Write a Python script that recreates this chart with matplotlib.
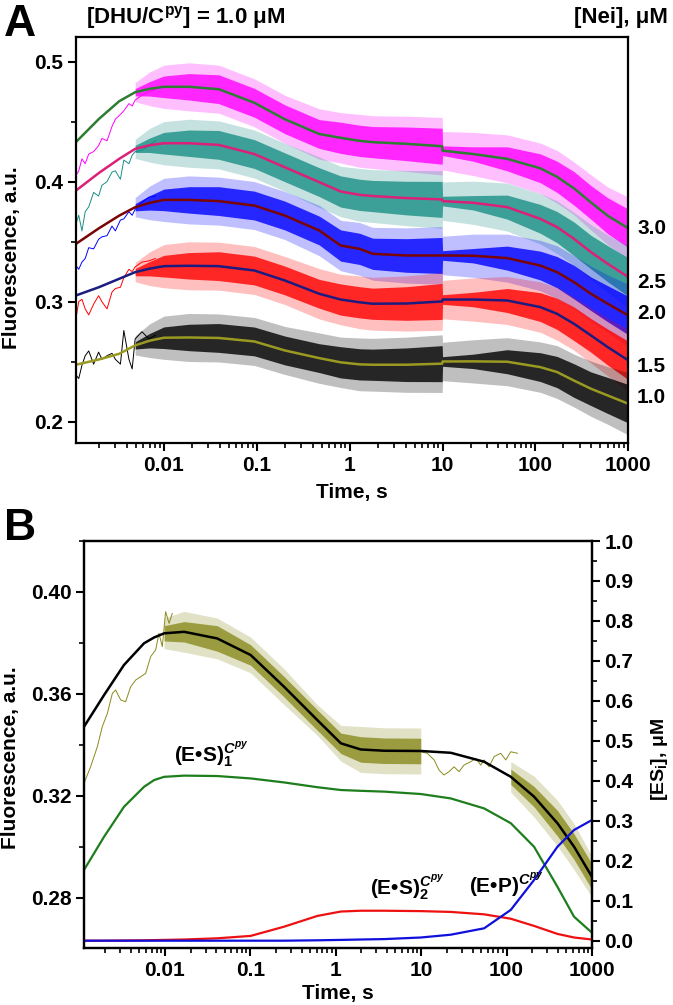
import numpy as np
import matplotlib
matplotlib.use("Agg")
import matplotlib.pyplot as plt
from matplotlib import ticker

plt.rcParams['font.family'] = ['Liberation Sans', 'DejaVu Sans']
plt.rcParams['font.weight'] = 'bold'
plt.rcParams['mathtext.fontset'] = 'custom'
plt.rcParams['mathtext.rm'] = 'Liberation Sans:bold'
plt.rcParams['mathtext.bf'] = 'Liberation Sans:bold'
plt.rcParams['mathtext.it'] = 'Liberation Sans:italic'
plt.rcParams['axes.linewidth'] = 1.6

# ---------------- panel A data ----------------
nei_labels = ['3.0', '2.5', '2.0', '1.5', '1.0']
nei_label_y = [229, 283, 313, 367, 397]  # pixel rows of the labels

fit_t = [0.00113, 0.002, 0.0033, 0.0049, 0.007, 0.01, 0.0186, 0.039, 0.094, 0.2, 0.47,
         0.8, 1.28, 1.77, 4.1, 9.9, 10.0, 21.4, 49.6, 113, 171, 260, 396, 600, 1000]
fit_30 = [0.433, 0.4523, 0.467, 0.4745, 0.4773, 0.479, 0.479, 0.477, 0.4657, 0.452, 0.4397,
          0.4365, 0.434, 0.4329, 0.4315, 0.4295, 0.4258, 0.423, 0.419, 0.4111, 0.404,
          0.3944, 0.3827, 0.3716, 0.3611]
fit_25 = [0.3926, 0.4073, 0.419, 0.4273, 0.4303, 0.432, 0.432, 0.4306, 0.423, 0.412, 0.3996,
          0.3918, 0.389, 0.388, 0.3863, 0.3852, 0.3838, 0.3824, 0.3788, 0.369, 0.3621,
          0.3524, 0.3413, 0.3316, 0.3205]
fit_20 = [0.3482, 0.3612, 0.3717, 0.3787, 0.3823, 0.3848, 0.3848, 0.3838, 0.3801, 0.3718,
          0.3593, 0.3468, 0.344, 0.3399, 0.3385, 0.3385, 0.3385, 0.3383, 0.3363, 0.3301,
          0.3246, 0.3163, 0.3066, 0.2983, 0.2885]
fit_15 = [0.3052, 0.3121, 0.3191, 0.3246, 0.3275, 0.3296, 0.3299, 0.3296, 0.326, 0.3177,
          0.3066, 0.3018, 0.2995, 0.2983, 0.2985, 0.3002, 0.3018, 0.3018, 0.301, 0.2955,
          0.2899, 0.2816, 0.2719, 0.2622, 0.2511]
fit_10 = [0.2475, 0.2519, 0.2566, 0.2636, 0.2675, 0.27, 0.2702, 0.2698, 0.2669, 0.2594,
          0.253, 0.2495, 0.2478, 0.2475, 0.2475, 0.2484, 0.2502, 0.2503, 0.25, 0.2455,
          0.2414, 0.2343, 0.2275, 0.2219, 0.215]
# dense-noise core and spike extent around each fit (from t = 0.0049 s on)
noise_core = [0.003, 0.006, 0.009, 0.011, 0.012, 0.012, 0.012, 0.012, 0.013, 0.013, 0.013,
              0.014, 0.015, 0.004, 0.006, 0.010, 0.012, 0.013, 0.014, 0.014, 0.015, 0.016]
noise_spike = [0.008, 0.014, 0.018, 0.020, 0.020, 0.020, 0.020, 0.021, 0.021, 0.022, 0.022,
               0.023, 0.024, 0.016, 0.018, 0.020, 0.021, 0.022, 0.022, 0.023, 0.024, 0.026]

# early (sparse) part of the raw traces
early_t = [0.00113, 0.00121, 0.00131, 0.00142, 0.00155, 0.00175, 0.00198, 0.00215,
           0.00244, 0.00276, 0.0030, 0.0034, 0.0037, 0.0042, 0.00455, 0.0049, 0.0058,
           0.0069, 0.0081]
raw_30 = [0.405, 0.409, 0.419, 0.415, 0.423, 0.425, 0.430, 0.436, 0.434, 0.446,
          0.452, 0.456, 0.459, 0.465, 0.463, 0.468, 0.472, 0.475, 0.477]
raw_25 = [0.365, 0.372, 0.359, 0.375, 0.379, 0.391, 0.388, 0.397, 0.400, 0.408,
          0.409, 0.402, 0.418, 0.415, 0.422, 0.425, 0.426, 0.430, 0.434]
raw_20 = [0.330, 0.327, 0.333, 0.336, 0.345, 0.344, 0.352, 0.354, 0.355, 0.363,
          0.359, 0.368, 0.369, 0.375, 0.372, 0.377, 0.383, 0.387, 0.388]
raw_15 = [0.286, 0.300, 0.302, 0.294, 0.289, 0.298, 0.305, 0.300, 0.294, 0.308,
          0.311, 0.312, 0.320, 0.327, 0.325, 0.329, 0.333, 0.334, 0.336]
raw_10 = [0.239, 0.236, 0.247, 0.255, 0.259, 0.248, 0.258, 0.252, 0.255, 0.257,
          0.252, 0.248, 0.276, 0.252, 0.244, 0.269, 0.275, 0.269, 0.272]

data_colors = ['#FF00FF', '#1A8F86', '#0000FF', '#FF0000', '#000000']
fit_colors = ['#2E7D32', '#DC1F78', '#7A0505', '#1C1C80', '#9A9A22']

# ---------------- panel B data ----------------
fitB_t = [0.00113, 0.00194, 0.00332, 0.0057, 0.0075, 0.0098, 0.0168, 0.041, 0.101, 0.248,
          0.61, 1.15, 1.96, 3.68, 9.9, 22.2, 54.6, 112, 210, 394, 617, 1000]
fitB = [0.3471, 0.3595, 0.3713, 0.3798, 0.3821, 0.3837, 0.3843, 0.3817, 0.3752, 0.3628,
        0.3497, 0.3406, 0.3382, 0.3377, 0.3376, 0.3369, 0.3334, 0.3275, 0.3197, 0.3093,
        0.3001, 0.2883]
es1 = [0.177, 0.260, 0.335, 0.385, 0.402, 0.410, 0.413, 0.412, 0.406, 0.396, 0.384,
       0.377, 0.375, 0.373, 0.367, 0.356, 0.331, 0.294, 0.235, 0.135, 0.060, 0.020]
es2 = [0.0, 0.0, 0.0005, 0.001, 0.0015, 0.002, 0.003, 0.006, 0.012, 0.035, 0.062,
       0.073, 0.075, 0.075, 0.074, 0.072, 0.066, 0.055, 0.037, 0.017, 0.008, 0.003]
ep = [0.0, 0.0, 0.0, 0.0, 0.0, 0.0, 0.0, 0.0, 0.0, 0.0, 0.001,
      0.002, 0.003, 0.004, 0.008, 0.015, 0.031, 0.077, 0.152, 0.235, 0.277, 0.302]

rawB_early_t = [0.00113, 0.00135, 0.00162, 0.00185, 0.00212, 0.00243, 0.00265, 0.00304,
                0.00347, 0.00398, 0.00455, 0.00521, 0.00596, 0.00682, 0.0078, 0.00853,
                0.00933, 0.0102, 0.0112, 0.0122]
rawB_early = [0.3249, 0.3314, 0.3393, 0.3471, 0.3523, 0.3602, 0.3615, 0.3576, 0.3569, 0.3628,
              0.3654, 0.3667, 0.368, 0.3746, 0.3772, 0.3837, 0.3785, 0.3922, 0.3876, 0.3915]
rawB_late_t = [9.89, 11.8, 14.2, 16.2, 18.5, 21.2, 24.3, 27.8, 31.8, 38.1, 43.6, 49.9,
               54.6, 62.4, 71.5, 85.5, 97.9, 112, 134]
rawB_late = [0.3373, 0.3367, 0.3341, 0.3301, 0.3282, 0.3295, 0.3314, 0.3295, 0.3321, 0.3334,
             0.3347, 0.3321, 0.3341, 0.3314, 0.3354, 0.3367, 0.3341, 0.3373, 0.3367]
# noise around the fit: 0.0098-9.9 s and 112-1000 s
bandB1_core = [0.003, 0.004, 0.005, 0.004, 0.004, 0.004, 0.004, 0.005, 0.005, 0.005]
bandB1_spike = [0.006, 0.008, 0.008, 0.007, 0.007, 0.006, 0.007, 0.009, 0.009, 0.009]
bandB2_core = [0.003, 0.004, 0.005, 0.005, 0.005]
bandB2_spike = [0.006, 0.008, 0.009, 0.009, 0.008]

fig = plt.figure(figsize=(6.73, 10.05), dpi=100)

# ================= panel A =================
axA = fig.add_axes([0.1129, 0.5592, 0.8207, 0.404])
fits = [fit_30, fit_25, fit_20, fit_15, fit_10]
raws = [raw_30, raw_25, raw_20, raw_15, raw_10]
tb = np.array(fit_t[3:])
core = np.array(noise_core)
spike = np.array(noise_spike)
for f, r, dc in zip(fits, raws, data_colors):
    c = np.array(f[3:])
    axA.fill_between(tb, c - spike, c + spike, color=dc, lw=0, alpha=0.25)
    axA.fill_between(tb, c - core, c + core, color=dc, lw=0, alpha=0.8)
    axA.plot(early_t, r, color=dc, lw=0.7)
for f, fc in zip(fits, fit_colors):
    axA.plot(fit_t, f, color=fc, lw=1.8)

axA.set_xscale('log')
axA.set_xlim(0.00113, 1000)
axA.set_ylim(0.1823, 0.5205)
axA.yaxis.set_major_locator(ticker.MultipleLocator(0.1))
axA.yaxis.set_minor_locator(ticker.MultipleLocator(0.05))
axA.yaxis.set_major_formatter(ticker.FormatStrFormatter('%.1f'))
axA.set_ylabel('Fluorescence, a.u.', fontsize=15, fontweight='bold')
axA.yaxis.set_label_coords(-0.100, 0.456)
axA.set_xlabel('Time, s', fontsize=15, fontweight='bold', labelpad=6)

for lab, ypix in zip(nei_labels, nei_label_y):
    fig.text(637 / 673, 1 - ypix / 1005, lab, fontsize=15, fontweight='bold', va='center')

fig.text(0.006, 0.996, 'A', fontsize=32, fontweight='bold', va='top')
fig.text(86 / 673, 1 - 18 / 1005, r'[DHU/C$^{\mathrm{py}}$] = 1.0 μM', fontsize=16,
         fontweight='bold', va='center')
fig.text(668 / 673, 1 - 18 / 1005, '[Nei], μM', fontsize=16, fontweight='bold',
         va='center', ha='right')

# ================= panel B =================
axB = fig.add_axes([0.1248, 0.0567, 0.7548, 0.4053])
axR = axB.twinx()

olive = '#8A8A1E'
for sl, cw, sw in ((slice(5, 15), bandB1_core, bandB1_spike),
                   (slice(17, 22), bandB2_core, bandB2_spike)):
    tt = fitB_t[sl]
    c = np.array(fitB[sl])
    axB.fill_between(tt, c - np.array(sw), c + np.array(sw), color=olive, lw=0, alpha=0.25)
    axB.fill_between(tt, c - np.array(cw), c + np.array(cw), color=olive, lw=0, alpha=0.8)
axB.plot(rawB_early_t, rawB_early, color=olive, lw=0.7)
axB.plot(rawB_late_t, rawB_late, color=olive, lw=0.7)
axB.plot(fitB_t, fitB, color='black', lw=1.8, zorder=5)

axR.plot(fitB_t, es1, color='#1E7E1E', lw=1.6)
axR.plot(fitB_t, es2, color='#EE1111', lw=1.6)
axR.plot(fitB_t, ep, color='#1010DD', lw=1.6)

axB.set_xscale('log')
axB.set_xlim(0.00113, 1000)
axB.set_ylim(0.2604, 0.42)
axR.set_ylim(-0.0183, 1.0008)
axB.yaxis.set_major_locator(ticker.MultipleLocator(0.04))
axB.yaxis.set_minor_locator(ticker.MultipleLocator(0.02))
axB.yaxis.set_major_formatter(ticker.FormatStrFormatter('%.2f'))
axR.yaxis.set_major_locator(ticker.MultipleLocator(0.1))
axR.yaxis.set_minor_locator(ticker.MultipleLocator(0.05))
axR.yaxis.set_major_formatter(ticker.FormatStrFormatter('%.1f'))
axB.set_ylabel('Fluorescence, a.u.', fontsize=15, fontweight='bold')
axB.yaxis.set_label_coords(-0.126, 0.467)
axR.set_ylabel(r'[ES$_{\mathrm{i}}$], μM', fontsize=14, fontweight='bold')
axR.yaxis.set_label_coords(1.112, 0.462)
axB.set_xlabel('Time, s', fontsize=15, fontweight='bold', labelpad=3)

fig.text(0.006, 1 - 508 / 1005, 'B', fontsize=32, fontweight='bold', va='top')
fig.text(174 / 673, 1 - 762 / 1005, r'(E•S)$_{1}^{C^{py}}$', fontsize=15, fontweight='bold')
fig.text(370 / 673, 1 - 895 / 1005, r'(E•S)$_{2}^{C^{py}}$', fontsize=15, fontweight='bold')
fig.text(469 / 673, 1 - 892 / 1005, r'(E•P)$^{C^{py}}$', fontsize=15, fontweight='bold')

fmt = ticker.FuncFormatter(lambda v, _: f'{v:g}')
for ax in (axA, axB):
    ax.xaxis.set_major_locator(ticker.LogLocator(base=10))
    ax.xaxis.set_minor_locator(ticker.LogLocator(base=10, subs=np.arange(2, 10)))
    ax.xaxis.set_major_formatter(fmt)
    ax.xaxis.set_minor_formatter(ticker.NullFormatter())
for ax in (axA, axB, axR):
    ax.tick_params(which='major', direction='out', length=6, width=1.5, labelsize=15, pad=3)
    ax.tick_params(which='minor', direction='out', length=3.5, width=1.2)
    for lab in ax.get_xticklabels() + ax.get_yticklabels():
        lab.set_fontweight('bold')

fig.savefig('out.png', dpi=100)
